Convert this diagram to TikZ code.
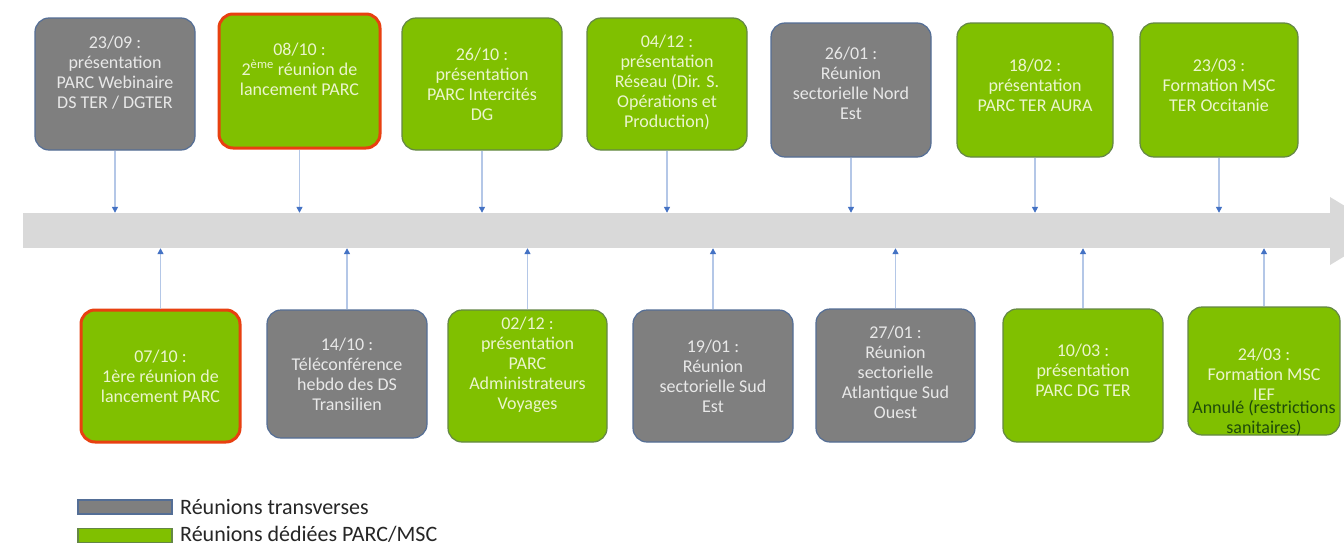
\documentclass[tikz,border=0pt]{standalone}
\usepackage{fontspec}
\setmainfont{Carlito}
\usetikzlibrary{arrows.meta}
\definecolor{evgray}{RGB}{127,127,127}
\definecolor{evgrayb}{RGB}{84,110,150}
\definecolor{evgreen}{RGB}{128,192,0}
\definecolor{evgreenb}{RGB}{100,135,70}
\definecolor{evred}{RGB}{232,64,16}
\definecolor{bandgray}{RGB}{217,217,217}
\definecolor{connline}{RGB}{180,199,231}
\definecolor{tipblue}{RGB}{68,114,196}
\definecolor{txtgray}{RGB}{232,232,232}
\definecolor{txtgreen}{RGB}{235,245,205}
\definecolor{txtdark}{RGB}{30,75,10}
\definecolor{legtxt}{RGB}{38,38,38}
\tikzset{
  evbase/.style={rectangle, rounded corners=14pt, inner sep=0pt, line width=1.2pt},
  grayev/.style={evbase, fill=evgray, draw=evgrayb},
  greenev/.style={evbase, fill=evgreen, draw=evgreenb},
  redev/.style={evbase, fill=evgreen, draw=evred, line width=3pt},
  evtxt/.style={align=center, inner sep=0pt, font=\fontsize{18}{20}\selectfont},
  grayevtxt/.style={evtxt, text=txtgray},
  greenevtxt/.style={evtxt, text=txtgreen},
  redevtxt/.style={evtxt, text=txtgreen},
  annul/.style={evtxt, text=txtdark},
  conn/.style={draw=connline, line width=1.3pt, -{Triangle[length=6pt,width=6pt,color=tipblue]}},
  legbox/.style={rectangle, inner sep=0pt, minimum width=94pt, minimum height=14pt, line width=1.2pt},
  legtext/.style={inner sep=0pt, text=legtxt, font=\fontsize{22}{26}\selectfont, anchor=base west},
}
\newcommand{\evbox}[8]{%
  \node[#2, minimum width=#5pt, minimum height=#6pt] (#1) at (#3,#4) {};
  \node[#2txt] (#1t) at ([yshift=#7pt]#1.center) {#8};
}
\begin{document}
\begin{tikzpicture}[x=1pt,y=-1pt]
\useasboundingbox (0,0) rectangle (1344,546);
\clip (0,0) rectangle (1344,546);
\fill[white] (0,0) rectangle (1344,546);
% timeline band
\node[fill=bandgray, inner sep=0pt, minimum width=1308pt, minimum height=35pt] (band) at (677,230.5) {};
\fill[bandgray] (1330,197) -- (1386,231) -- (1330,265) -- cycle;
% top events
\evbox{t1}{grayev}{115}{84}{160}{132}{11}{23/09 :\\présentation\\PARC Webinaire\\DS TER / DGTER}
\evbox{t2}{redev}{299.5}{81}{161}{134}{12}{08/10 :\\2\textsuperscript{ème} réunion de\\lancement PARC}
\evbox{t3}{greenev}{482}{84}{160}{132}{0}{26/10 :\\présentation\\PARC Intercités\\DG}
\evbox{t4}{greenev}{667}{84}{160}{132}{2}{04/12 :\\présentation\\Réseau (Dir. S.\\Opérations et\\Production)}
\evbox{t5}{grayev}{851}{90}{160}{134}{7}{26/01 :\\Réunion\\sectorielle Nord\\Est}
\evbox{t6}{greenev}{1035}{90}{156}{134}{5}{18/02 :\\présentation\\PARC TER AURA}
\evbox{t7}{greenev}{1219}{90}{158}{134}{5}{23/03 :\\Formation MSC\\TER Occitanie}
% bottom events
\evbox{b1}{redev}{160.5}{376}{159}{132}{0}{07/10 :\\1ère réunion de\\lancement PARC}
\evbox{b2}{grayev}{347}{374}{160}{128}{0}{14/10 :\\Téléconférence\\hebdo des DS\\Transilien}
\evbox{b3}{greenev}{527.5}{376}{159}{132}{11}{02/12 :\\présentation\\PARC\\Administrateurs\\Voyages}
\evbox{b4}{grayev}{713}{376}{160}{132}{0}{19/01 :\\Réunion\\sectorielle Sud\\Est}
\evbox{b5}{grayev}{895.5}{375.5}{159}{133}{3}{27/01 :\\Réunion\\sectorielle\\Atlantique Sud\\Ouest}
\evbox{b6}{greenev}{1083}{375.5}{160}{133}{5}{10/03 :\\présentation\\PARC DG TER}
\evbox{b7}{greenev}{1264}{371}{152}{128}{-3}{24/03 :\\Formation MSC\\IEF}
\node[annul] (b7n) at ([yshift=-47pt]b7.center) {Annulé (restrictions\\sanitaires)};
% connectors
\foreach \n in {t1,t2,t3,t4,t5,t6,t7}
  \draw[conn] (\n.south) -- (\n.south |- band.north);
\foreach \n in {b1,b2,b3,b4,b5,b6,b7}
  \draw[conn] (\n.north) -- (\n.north |- band.south);
% legend
\node[legbox, fill=evgray, draw=evgrayb] (lg1) at (125,507) {};
\node[legbox, fill=evgreen, draw=evgreenb] (lg2) at (125,535.5) {};
\node[legtext] (lg1t) at (180,514) {Réunions transverses};
\node[legtext] (lg2t) at (180,541) {Réunions dédiées PARC/MSC};
\end{tikzpicture}
\end{document}
